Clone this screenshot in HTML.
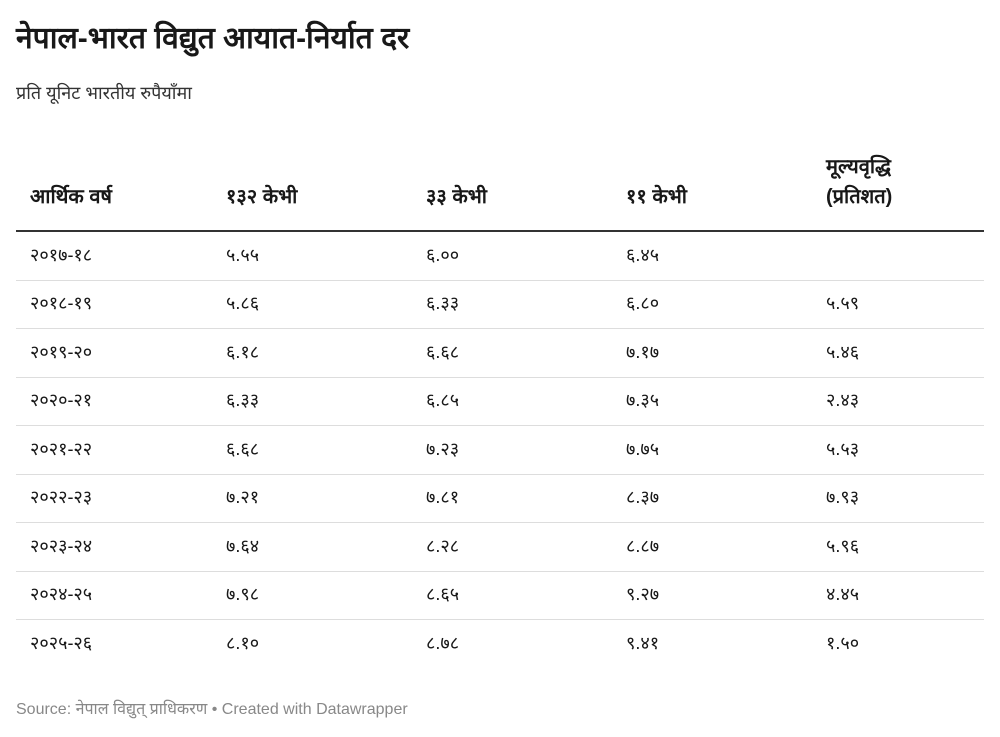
<!DOCTYPE html>
<html><head><meta charset="utf-8"><style>
body{margin:0;width:1000px;height:737px;background:#fff;font-family:"Liberation Sans","DejaVu Sans",sans-serif;color:#181818;position:relative;overflow:hidden}
.t{position:absolute;left:16px;top:17px;font-size:30px;font-weight:bold;line-height:44px}
.s{position:absolute;left:16px;top:78px;font-size:18px;color:#333;line-height:30px}
table{position:absolute;left:16px;top:140px;width:968px;border-collapse:collapse;font-size:18px}
th{text-align:left;font-weight:bold;font-size:20px;padding:0 14px 18px;vertical-align:bottom;height:72px;border-bottom:2px solid #333;line-height:30px}
td{height:45.5px;padding:0 14px 2px;border-bottom:1px solid #ddd;vertical-align:middle}
tr:last-child td{border-bottom:none}
col.a{width:196px}col.b{width:200px}col.c{width:200px}col.d{width:200px}
.f{position:absolute;left:16px;top:698px;font-size:16px;color:#888;line-height:24px}
</style></head><body>
<div class="t">नेपाल-भारत विद्युत आयात-निर्यात दर</div>
<div class="s">प्रति यूनिट भारतीय रुपैयाँमा</div>
<table><colgroup><col class="a"><col class="b"><col class="c"><col class="d"><col></colgroup>
<tr><th>आर्थिक वर्ष</th><th>१३२ केभी</th><th>३३ केभी</th><th>११ केभी</th><th>मूल्यवृद्धि<br>(प्रतिशत)</th></tr>
<tr><td>२०१७-१८</td><td>५.५५</td><td>६.००</td><td>६.४५</td><td></td></tr>
<tr><td>२०१८-१९</td><td>५.८६</td><td>६.३३</td><td>६.८०</td><td>५.५९</td></tr>
<tr><td>२०१९-२०</td><td>६.१८</td><td>६.६८</td><td>७.१७</td><td>५.४६</td></tr>
<tr><td>२०२०-२१</td><td>६.३३</td><td>६.८५</td><td>७.३५</td><td>२.४३</td></tr>
<tr><td>२०२१-२२</td><td>६.६८</td><td>७.२३</td><td>७.७५</td><td>५.५३</td></tr>
<tr><td>२०२२-२३</td><td>७.२१</td><td>७.८१</td><td>८.३७</td><td>७.९३</td></tr>
<tr><td>२०२३-२४</td><td>७.६४</td><td>८.२८</td><td>८.८७</td><td>५.९६</td></tr>
<tr><td>२०२४-२५</td><td>७.९८</td><td>८.६५</td><td>९.२७</td><td>४.४५</td></tr>
<tr><td>२०२५-२६</td><td>८.१०</td><td>८.७८</td><td>९.४१</td><td>१.५०</td></tr>
</table>
<div class="f">Source: नेपाल विद्युत् प्राधिकरण • Created with Datawrapper</div>
</body></html>
